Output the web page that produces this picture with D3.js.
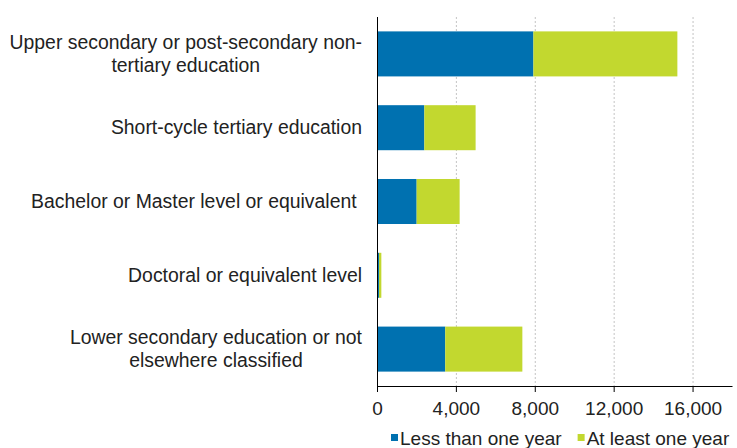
<!DOCTYPE html>
<html>
<head>
<meta charset="utf-8">
<script src="https://cdn.jsdelivr.net/npm/d3@7"></script>
<style>
  body { margin: 0; background: #fff; }
  svg { display: block; font-family: "Liberation Sans", Arial, sans-serif; }
</style>
</head>
<body>
<svg width="737" height="448"></svg>
<script>
// data
const categories = [
  ["Upper secondary or post-secondary non-", "tertiary education"],
  ["Short-cycle tertiary education"],
  ["Bachelor or Master level or equivalent "],
  ["Doctoral or equivalent level"],
  ["Lower secondary education or not", "elsewhere classified"]
];
const lessThanOneYear = [7930, 2400, 2010, 100, 3460];
const atLeastOneYear = [7300, 2600, 2180, 120, 3910];
const seriesNames = ["Less than one year", "At least one year"];
const xTicks = [0, 4000, 8000, 12000, 16000];

const colors = ["#0071b0", "#c2d82f"];

const svg = d3.select("svg");
const margin = { top: 17, left: 377, right: 5, bottom: 62 };
const width = +svg.attr("width") - margin.left - margin.right;
const height = +svg.attr("height") - margin.top - margin.bottom;

const g = svg.append("g")
  .attr("transform", "translate(" + margin.left + "," + margin.top + ")");

const x = d3.scaleLinear().domain([0, 18000]).range([0, width]);
const y = d3.scaleBand()
  .domain(d3.range(categories.length))
  .range([0, height])
  .paddingInner(0.39)
  .paddingOuter(0.195);

// dotted grid lines
g.append("g")
  .selectAll("line")
  .data(xTicks.slice(1))
  .enter()
  .append("line")
  .attr("x1", d => x(d) + 0.5)
  .attr("x2", d => x(d) + 0.5)
  .attr("y1", 0)
  .attr("y2", height)
  .attr("stroke", "#c4c4c4")
  .attr("stroke-dasharray", "2,2");

// stacked bars
const stack = categories.map((c, i) => [
  [0, lessThanOneYear[i]],
  [lessThanOneYear[i], lessThanOneYear[i] + atLeastOneYear[i]]
]);

stack.forEach((parts, i) => {
  parts.forEach((p, s) => {
    g.append("rect")
      .attr("x", x(p[0]))
      .attr("y", y(i))
      .attr("width", x(p[1]) - x(p[0]))
      .attr("height", y.bandwidth())
      .attr("fill", colors[s]);
  });
});

// x axis
const xAxis = g.append("g")
  .attr("transform", "translate(0," + height + ")")
  .call(d3.axisBottom(x).tickValues(xTicks).tickSize(6).tickSizeOuter(0).tickFormat(d3.format(",")));
xAxis.select(".domain").attr("stroke", "#000");
xAxis.selectAll(".tick line").attr("stroke", "#000");
xAxis.selectAll("text")
  .attr("font-size", "19px")
  .attr("fill", "#222")
  .attr("dy", "1.05em");

// y axis line
g.append("line")
  .attr("x1", 0.5).attr("x2", 0.5)
  .attr("y1", 0).attr("y2", height)
  .attr("stroke", "#000");

// category labels, centred lines, block right-aligned
const labelRight = 362;
categories.forEach((lines, i) => {
  const t = svg.append("text")
    .attr("font-size", "19.4px")
    .attr("fill", "#222")
    .attr("text-anchor", "middle")
    .style("white-space", "pre");
  const cy = margin.top + y(i) + y.bandwidth() / 2;
  const lh = 23;
  const tsp = lines.map((line, k) =>
    t.append("tspan")
      .attr("y", cy + (k - (lines.length - 1) / 2) * lh)
      .attr("dy", "0.35em")
      .text(line));
  const maxW = d3.max(tsp, s => s.node().getComputedTextLength());
  tsp.forEach(s => s.attr("x", labelRight - maxW / 2));
});

// legend
let lx = 391;
const ly = 445;
seriesNames.forEach((name, s) => {
  svg.append("rect")
    .attr("x", lx).attr("y", ly - 11)
    .attr("width", 7).attr("height", 7)
    .attr("fill", colors[s]);
  const t = svg.append("text")
    .attr("x", lx + 9).attr("y", ly)
    .attr("font-size", "19px")
    .attr("fill", "#222")
    .text(name);
  lx += 9 + t.node().getComputedTextLength() + 16;
});
</script>
</body>
</html>
